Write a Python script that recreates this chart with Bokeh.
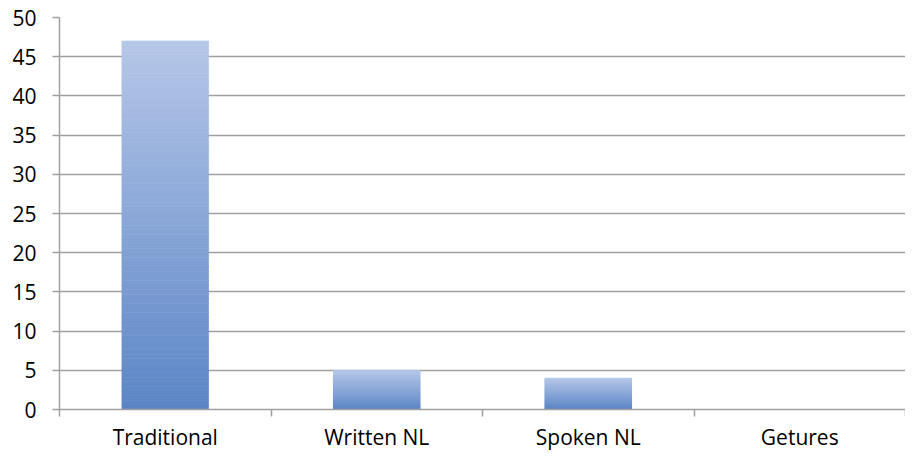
import numpy as np
from bokeh.plotting import figure
from bokeh.models import FixedTicker, Range1d
from bokeh.embed import file_html
from bokeh.resources import INLINE

categories = ["Traditional", "Written NL", "Spoken NL", "Getures"]
values = [47, 5, 4, 0]
y_ticks = [0, 5, 10, 15, 20, 25, 30, 35, 40, 45, 50]

top_rgb = np.array([0xB5, 0xC7, 0xE8])
bot_rgb = np.array([0x5B, 0x85, 0xC6])
bar_width = 0.41
n_slices = 80

p = figure(width=905, height=453, output_backend="svg", toolbar_location=None,
           x_range=Range1d(0, len(categories)), y_range=Range1d(0, 50),
           min_border_left=59, min_border_right=0, min_border_top=17, min_border_bottom=36)
p.outline_line_color = None
p.background_fill_color = "white"
p.border_fill_color = "white"

# gradient bars, each slice computed from the value
lefts, rights, bottoms, tops, colors = [], [], [], [], []
for i, v in enumerate(values):
    if v <= 0:
        continue
    c = i + 0.5
    edges = np.linspace(0, v, n_slices + 1)
    for k in range(n_slices):
        t = (k + 0.5) / n_slices  # 0 bottom, 1 top
        rgb = bot_rgb + (top_rgb - bot_rgb) * t
        colors.append("#%02x%02x%02x" % tuple(int(round(x)) for x in rgb))
        lefts.append(c - bar_width / 2)
        rights.append(c + bar_width / 2)
        bottoms.append(edges[k])
        tops.append(edges[k + 1] + (v / n_slices) * 0.02)
p.quad(left=lefts, right=rights, bottom=bottoms, top=tops,
       fill_color=colors, line_color=colors, line_width=0.6)

# axes
font = "Open Sans"
fsize = "21px"
p.yaxis.ticker = FixedTicker(ticks=y_ticks, minor_ticks=[])
p.yaxis.axis_line_color = "#a0a0a0"
p.yaxis.axis_line_width = 1.5
p.yaxis.major_tick_line_color = "#a0a0a0"
p.yaxis.major_tick_line_width = 1.5
p.yaxis.major_tick_out = 7
p.yaxis.major_tick_in = 0
p.yaxis.major_label_standoff = 16
p.yaxis.major_label_text_font = font
p.yaxis.major_label_text_font_size = fsize
p.yaxis.major_label_text_color = "#000000"

centers = [i + 0.5 for i in range(len(categories))]
bounds = list(range(len(categories) + 1))
p.xaxis.ticker = FixedTicker(ticks=centers, minor_ticks=bounds)
p.xaxis.major_label_overrides = {c: name for c, name in zip(centers, categories)}
p.xaxis.major_tick_line_color = None
p.xaxis.minor_tick_line_color = "#a0a0a0"
p.xaxis.minor_tick_line_width = 1.5
p.xaxis.minor_tick_out = 7
p.xaxis.minor_tick_in = 0
p.xaxis.axis_line_color = "#a0a0a0"
p.xaxis.axis_line_width = 1.5
p.xaxis.major_label_standoff = 6
p.xaxis.major_label_text_font = font
p.xaxis.major_label_text_font_size = fsize
p.xaxis.major_label_text_color = "#000000"

p.xgrid.grid_line_color = None
p.ygrid.grid_line_color = "#a0a0a0"
p.ygrid.grid_line_width = 1.5
p.ygrid.level = "underlay"

open("out.html", "w").write(file_html(p, INLINE))
